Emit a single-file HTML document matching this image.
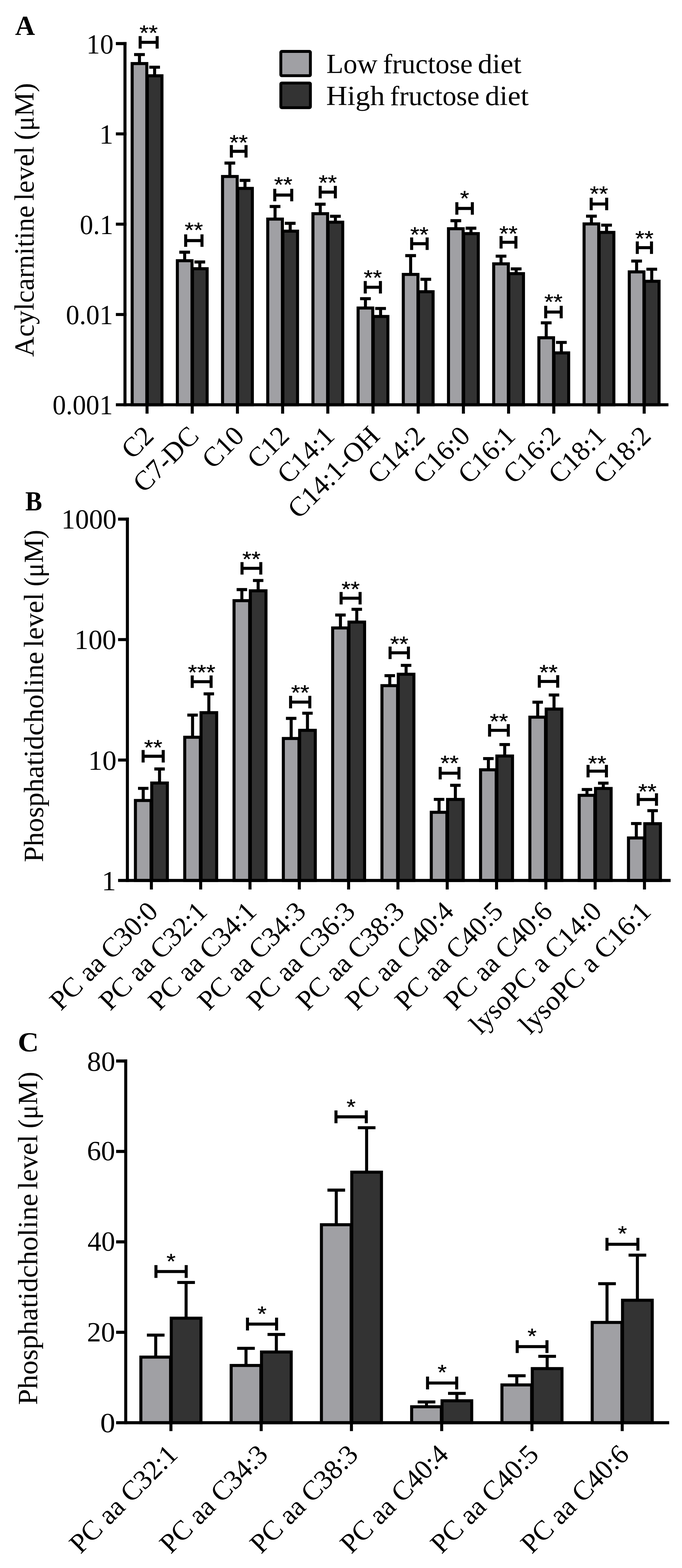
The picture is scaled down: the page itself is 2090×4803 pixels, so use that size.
<!DOCTYPE html>
<html><head><meta charset="utf-8"><title>Figure</title>
<style>html,body{margin:0;padding:0;background:#fff;} svg{display:block;}</style>
</head><body>
<svg xmlns="http://www.w3.org/2000/svg" width="2090" height="4803" viewBox="0 0 2090 4803">
<rect width="2090" height="4803" fill="#fff"/>
<g stroke="#000" fill="#000" font-family="'Liberation Serif', 'DejaVu Serif', serif">
<line x1="427.4" y1="194.7" x2="427.4" y2="167.1" stroke-width="9.3" stroke-linecap="butt"/>
<line x1="415.6" y1="167.1" x2="439.2" y2="167.1" stroke-width="9.3" stroke-linecap="square"/>
<rect x="405.0" y="194.7" width="44.9" height="1045.2" fill="#a0a0a4" stroke-width="9.3" stroke-linejoin="miter"/>
<line x1="473.8" y1="232.1" x2="473.8" y2="205.8" stroke-width="9.3" stroke-linecap="butt"/>
<line x1="462.0" y1="205.8" x2="485.6" y2="205.8" stroke-width="9.3" stroke-linecap="square"/>
<rect x="451.4" y="232.1" width="44.9" height="1007.9" fill="#333333" stroke-width="9.3" stroke-linejoin="miter"/>
<line x1="429.5" y1="115.2" x2="429.5" y2="144.2" stroke-width="9.3" stroke-linecap="square"/>
<line x1="481.6" y1="115.2" x2="481.6" y2="144.2" stroke-width="9.3" stroke-linecap="square"/>
<line x1="429.5" y1="129.7" x2="481.6" y2="129.7" stroke-width="9.3" stroke-linecap="butt"/>
<text stroke="#000" stroke-width="0.6" font-family="'Liberation Sans', 'DejaVu Sans', sans-serif" text-anchor="middle" transform="translate(455.6,123.4) scale(1,0.9)" font-size="72">**</text>
<line x1="450.6" y1="1239.9" x2="450.6" y2="1262.4" stroke-width="9.3" stroke-linecap="square"/>
<line x1="565.9" y1="798.6" x2="565.9" y2="772.5" stroke-width="9.3" stroke-linecap="butt"/>
<line x1="554.1" y1="772.5" x2="577.7" y2="772.5" stroke-width="9.3" stroke-linecap="square"/>
<rect x="543.5" y="798.6" width="44.9" height="441.3" fill="#a0a0a4" stroke-width="9.3" stroke-linejoin="miter"/>
<line x1="612.3" y1="823.1" x2="612.3" y2="802.5" stroke-width="9.3" stroke-linecap="butt"/>
<line x1="600.5" y1="802.5" x2="624.1" y2="802.5" stroke-width="9.3" stroke-linecap="square"/>
<rect x="589.9" y="823.1" width="44.9" height="416.8" fill="#333333" stroke-width="9.3" stroke-linejoin="miter"/>
<line x1="569.0" y1="722.5" x2="569.0" y2="751.5" stroke-width="9.3" stroke-linecap="square"/>
<line x1="619.0" y1="722.5" x2="619.0" y2="751.5" stroke-width="9.3" stroke-linecap="square"/>
<line x1="569.0" y1="737.0" x2="619.0" y2="737.0" stroke-width="9.3" stroke-linecap="butt"/>
<text stroke="#000" stroke-width="0.6" font-family="'Liberation Sans', 'DejaVu Sans', sans-serif" text-anchor="middle" transform="translate(594.0,727.2) scale(1,0.9)" font-size="72">**</text>
<line x1="589.1" y1="1239.9" x2="589.1" y2="1262.4" stroke-width="9.3" stroke-linecap="square"/>
<line x1="704.4" y1="540.6" x2="704.4" y2="499.5" stroke-width="9.3" stroke-linecap="butt"/>
<line x1="692.6" y1="499.5" x2="716.2" y2="499.5" stroke-width="9.3" stroke-linecap="square"/>
<rect x="682.0" y="540.6" width="44.9" height="699.3" fill="#a0a0a4" stroke-width="9.3" stroke-linejoin="miter"/>
<line x1="750.8" y1="577.1" x2="750.8" y2="552.5" stroke-width="9.3" stroke-linecap="butt"/>
<line x1="739.0" y1="552.5" x2="762.6" y2="552.5" stroke-width="9.3" stroke-linecap="square"/>
<rect x="728.4" y="577.1" width="44.9" height="662.8" fill="#333333" stroke-width="9.3" stroke-linejoin="miter"/>
<line x1="709.0" y1="449.0" x2="709.0" y2="478.0" stroke-width="9.3" stroke-linecap="square"/>
<line x1="754.0" y1="449.0" x2="754.0" y2="478.0" stroke-width="9.3" stroke-linecap="square"/>
<line x1="709.0" y1="463.5" x2="754.0" y2="463.5" stroke-width="9.3" stroke-linecap="butt"/>
<text stroke="#000" stroke-width="0.6" font-family="'Liberation Sans', 'DejaVu Sans', sans-serif" text-anchor="middle" transform="translate(731.5,458.7) scale(1,0.9)" font-size="72">**</text>
<line x1="727.6" y1="1239.9" x2="727.6" y2="1262.4" stroke-width="9.3" stroke-linecap="square"/>
<line x1="842.9" y1="671.1" x2="842.9" y2="632.5" stroke-width="9.3" stroke-linecap="butt"/>
<line x1="831.1" y1="632.5" x2="854.7" y2="632.5" stroke-width="9.3" stroke-linecap="square"/>
<rect x="820.5" y="671.1" width="44.9" height="568.8" fill="#a0a0a4" stroke-width="9.3" stroke-linejoin="miter"/>
<line x1="889.3" y1="708.1" x2="889.3" y2="684.0" stroke-width="9.3" stroke-linecap="butt"/>
<line x1="877.5" y1="684.0" x2="901.1" y2="684.0" stroke-width="9.3" stroke-linecap="square"/>
<rect x="866.9" y="708.1" width="44.9" height="531.8" fill="#333333" stroke-width="9.3" stroke-linejoin="miter"/>
<line x1="842.0" y1="583.0" x2="842.0" y2="612.0" stroke-width="9.3" stroke-linecap="square"/>
<line x1="894.0" y1="583.0" x2="894.0" y2="612.0" stroke-width="9.3" stroke-linecap="square"/>
<line x1="842.0" y1="597.5" x2="894.0" y2="597.5" stroke-width="9.3" stroke-linecap="butt"/>
<text stroke="#000" stroke-width="0.6" font-family="'Liberation Sans', 'DejaVu Sans', sans-serif" text-anchor="middle" transform="translate(868.0,587.5) scale(1,0.9)" font-size="72">**</text>
<line x1="866.1" y1="1239.9" x2="866.1" y2="1262.4" stroke-width="9.3" stroke-linecap="square"/>
<line x1="981.4" y1="654.6" x2="981.4" y2="625.5" stroke-width="9.3" stroke-linecap="butt"/>
<line x1="969.6" y1="625.5" x2="993.2" y2="625.5" stroke-width="9.3" stroke-linecap="square"/>
<rect x="959.0" y="654.6" width="44.9" height="585.3" fill="#a0a0a4" stroke-width="9.3" stroke-linejoin="miter"/>
<line x1="1027.8" y1="680.6" x2="1027.8" y2="662.5" stroke-width="9.3" stroke-linecap="butt"/>
<line x1="1016.0" y1="662.5" x2="1039.6" y2="662.5" stroke-width="9.3" stroke-linecap="square"/>
<rect x="1005.4" y="680.6" width="44.9" height="559.3" fill="#333333" stroke-width="9.3" stroke-linejoin="miter"/>
<line x1="981.2" y1="574.0" x2="981.2" y2="603.0" stroke-width="9.3" stroke-linecap="square"/>
<line x1="1027.7" y1="574.0" x2="1027.7" y2="603.0" stroke-width="9.3" stroke-linecap="square"/>
<line x1="981.2" y1="588.5" x2="1027.7" y2="588.5" stroke-width="9.3" stroke-linecap="butt"/>
<text stroke="#000" stroke-width="0.6" font-family="'Liberation Sans', 'DejaVu Sans', sans-serif" text-anchor="middle" transform="translate(1004.5,581.8) scale(1,0.9)" font-size="72">**</text>
<line x1="1004.6" y1="1239.9" x2="1004.6" y2="1262.4" stroke-width="9.3" stroke-linecap="square"/>
<line x1="1119.9" y1="943.5" x2="1119.9" y2="914.9" stroke-width="9.3" stroke-linecap="butt"/>
<line x1="1108.1" y1="914.9" x2="1131.7" y2="914.9" stroke-width="9.3" stroke-linecap="square"/>
<rect x="1097.4" y="943.5" width="44.9" height="296.4" fill="#a0a0a4" stroke-width="9.3" stroke-linejoin="miter"/>
<line x1="1166.3" y1="969.4" x2="1166.3" y2="944.9" stroke-width="9.3" stroke-linecap="butt"/>
<line x1="1154.5" y1="944.9" x2="1178.1" y2="944.9" stroke-width="9.3" stroke-linecap="square"/>
<rect x="1143.8" y="969.4" width="44.9" height="270.5" fill="#333333" stroke-width="9.3" stroke-linejoin="miter"/>
<line x1="1119.3" y1="865.4" x2="1119.3" y2="894.4" stroke-width="9.3" stroke-linecap="square"/>
<line x1="1165.8" y1="865.4" x2="1165.8" y2="894.4" stroke-width="9.3" stroke-linecap="square"/>
<line x1="1119.3" y1="879.9" x2="1165.8" y2="879.9" stroke-width="9.3" stroke-linecap="butt"/>
<text stroke="#000" stroke-width="0.6" font-family="'Liberation Sans', 'DejaVu Sans', sans-serif" text-anchor="middle" transform="translate(1142.5,873.2) scale(1,0.9)" font-size="72">**</text>
<line x1="1143.1" y1="1239.9" x2="1143.1" y2="1262.4" stroke-width="9.3" stroke-linecap="square"/>
<line x1="1258.4" y1="840.6" x2="1258.4" y2="783.0" stroke-width="9.3" stroke-linecap="butt"/>
<line x1="1246.6" y1="783.0" x2="1270.2" y2="783.0" stroke-width="9.3" stroke-linecap="square"/>
<rect x="1235.9" y="840.6" width="44.9" height="399.3" fill="#a0a0a4" stroke-width="9.3" stroke-linejoin="miter"/>
<line x1="1304.8" y1="893.6" x2="1304.8" y2="855.5" stroke-width="9.3" stroke-linecap="butt"/>
<line x1="1293.0" y1="855.5" x2="1316.6" y2="855.5" stroke-width="9.3" stroke-linecap="square"/>
<rect x="1282.3" y="893.6" width="44.9" height="346.3" fill="#333333" stroke-width="9.3" stroke-linejoin="miter"/>
<line x1="1261.5" y1="732.0" x2="1261.5" y2="761.0" stroke-width="9.3" stroke-linecap="square"/>
<line x1="1309.0" y1="732.0" x2="1309.0" y2="761.0" stroke-width="9.3" stroke-linecap="square"/>
<line x1="1261.5" y1="746.5" x2="1309.0" y2="746.5" stroke-width="9.3" stroke-linecap="butt"/>
<text stroke="#000" stroke-width="0.6" font-family="'Liberation Sans', 'DejaVu Sans', sans-serif" text-anchor="middle" transform="translate(1285.2,740.7) scale(1,0.9)" font-size="72">**</text>
<line x1="1281.6" y1="1239.9" x2="1281.6" y2="1262.4" stroke-width="9.3" stroke-linecap="square"/>
<line x1="1396.9" y1="700.6" x2="1396.9" y2="676.0" stroke-width="9.3" stroke-linecap="butt"/>
<line x1="1385.1" y1="676.0" x2="1408.7" y2="676.0" stroke-width="9.3" stroke-linecap="square"/>
<rect x="1374.4" y="700.6" width="44.9" height="539.3" fill="#a0a0a4" stroke-width="9.3" stroke-linejoin="miter"/>
<line x1="1443.3" y1="715.6" x2="1443.3" y2="699.0" stroke-width="9.3" stroke-linecap="butt"/>
<line x1="1431.5" y1="699.0" x2="1455.1" y2="699.0" stroke-width="9.3" stroke-linecap="square"/>
<rect x="1420.8" y="715.6" width="44.9" height="524.3" fill="#333333" stroke-width="9.3" stroke-linejoin="miter"/>
<line x1="1400.0" y1="624.0" x2="1400.0" y2="653.0" stroke-width="9.3" stroke-linecap="square"/>
<line x1="1447.5" y1="624.0" x2="1447.5" y2="653.0" stroke-width="9.3" stroke-linecap="square"/>
<line x1="1400.0" y1="638.5" x2="1447.5" y2="638.5" stroke-width="9.3" stroke-linecap="butt"/>
<text stroke="#000" stroke-width="0.6" font-family="'Liberation Sans', 'DejaVu Sans', sans-serif" text-anchor="middle" transform="translate(1423.8,629.7) scale(1,0.9)" font-size="72">*</text>
<line x1="1420.1" y1="1239.9" x2="1420.1" y2="1262.4" stroke-width="9.3" stroke-linecap="square"/>
<line x1="1535.4" y1="808.2" x2="1535.4" y2="784.6" stroke-width="9.3" stroke-linecap="butt"/>
<line x1="1523.6" y1="784.6" x2="1547.2" y2="784.6" stroke-width="9.3" stroke-linecap="square"/>
<rect x="1512.9" y="808.2" width="44.9" height="431.7" fill="#a0a0a4" stroke-width="9.3" stroke-linejoin="miter"/>
<line x1="1581.8" y1="838.2" x2="1581.8" y2="823.6" stroke-width="9.3" stroke-linecap="butt"/>
<line x1="1570.0" y1="823.6" x2="1593.6" y2="823.6" stroke-width="9.3" stroke-linecap="square"/>
<rect x="1559.3" y="838.2" width="44.9" height="401.7" fill="#333333" stroke-width="9.3" stroke-linejoin="miter"/>
<line x1="1535.5" y1="727.7" x2="1535.5" y2="756.7" stroke-width="9.3" stroke-linecap="square"/>
<line x1="1581.0" y1="727.7" x2="1581.0" y2="756.7" stroke-width="9.3" stroke-linecap="square"/>
<line x1="1535.5" y1="742.2" x2="1581.0" y2="742.2" stroke-width="9.3" stroke-linecap="butt"/>
<text stroke="#000" stroke-width="0.6" font-family="'Liberation Sans', 'DejaVu Sans', sans-serif" text-anchor="middle" transform="translate(1558.2,738.4) scale(1,0.9)" font-size="72">**</text>
<line x1="1558.6" y1="1239.9" x2="1558.6" y2="1262.4" stroke-width="9.3" stroke-linecap="square"/>
<line x1="1673.9" y1="1034.6" x2="1673.9" y2="988.9" stroke-width="9.3" stroke-linecap="butt"/>
<line x1="1662.1" y1="988.9" x2="1685.7" y2="988.9" stroke-width="9.3" stroke-linecap="square"/>
<rect x="1651.4" y="1034.6" width="44.9" height="205.3" fill="#a0a0a4" stroke-width="9.3" stroke-linejoin="miter"/>
<line x1="1720.3" y1="1081.0" x2="1720.3" y2="1048.8" stroke-width="9.3" stroke-linecap="butt"/>
<line x1="1708.5" y1="1048.8" x2="1732.1" y2="1048.8" stroke-width="9.3" stroke-linecap="square"/>
<rect x="1697.8" y="1081.0" width="44.9" height="159.0" fill="#333333" stroke-width="9.3" stroke-linejoin="miter"/>
<line x1="1672.3" y1="941.4" x2="1672.3" y2="970.4" stroke-width="9.3" stroke-linecap="square"/>
<line x1="1719.8" y1="941.4" x2="1719.8" y2="970.4" stroke-width="9.3" stroke-linecap="square"/>
<line x1="1672.3" y1="955.9" x2="1719.8" y2="955.9" stroke-width="9.3" stroke-linecap="butt"/>
<text stroke="#000" stroke-width="0.6" font-family="'Liberation Sans', 'DejaVu Sans', sans-serif" text-anchor="middle" transform="translate(1696.0,947.2) scale(1,0.9)" font-size="72">**</text>
<line x1="1697.1" y1="1239.9" x2="1697.1" y2="1262.4" stroke-width="9.3" stroke-linecap="square"/>
<line x1="1812.4" y1="685.9" x2="1812.4" y2="662.2" stroke-width="9.3" stroke-linecap="butt"/>
<line x1="1800.6" y1="662.2" x2="1824.2" y2="662.2" stroke-width="9.3" stroke-linecap="square"/>
<rect x="1789.9" y="685.9" width="44.9" height="554.1" fill="#a0a0a4" stroke-width="9.3" stroke-linejoin="miter"/>
<line x1="1858.8" y1="711.9" x2="1858.8" y2="689.7" stroke-width="9.3" stroke-linecap="butt"/>
<line x1="1847.0" y1="689.7" x2="1870.6" y2="689.7" stroke-width="9.3" stroke-linecap="square"/>
<rect x="1836.3" y="711.9" width="44.9" height="528.1" fill="#333333" stroke-width="9.3" stroke-linejoin="miter"/>
<line x1="1811.7" y1="610.3" x2="1811.7" y2="639.3" stroke-width="9.3" stroke-linecap="square"/>
<line x1="1859.2" y1="610.3" x2="1859.2" y2="639.3" stroke-width="9.3" stroke-linecap="square"/>
<line x1="1811.7" y1="624.8" x2="1859.2" y2="624.8" stroke-width="9.3" stroke-linecap="butt"/>
<text stroke="#000" stroke-width="0.6" font-family="'Liberation Sans', 'DejaVu Sans', sans-serif" text-anchor="middle" transform="translate(1835.5,615.5) scale(1,0.9)" font-size="72">**</text>
<line x1="1835.6" y1="1239.9" x2="1835.6" y2="1262.4" stroke-width="9.3" stroke-linecap="square"/>
<line x1="1950.9" y1="832.8" x2="1950.9" y2="799.6" stroke-width="9.3" stroke-linecap="butt"/>
<line x1="1939.1" y1="799.6" x2="1962.7" y2="799.6" stroke-width="9.3" stroke-linecap="square"/>
<rect x="1928.4" y="832.8" width="44.9" height="407.2" fill="#a0a0a4" stroke-width="9.3" stroke-linejoin="miter"/>
<line x1="1997.3" y1="861.6" x2="1997.3" y2="824.6" stroke-width="9.3" stroke-linecap="butt"/>
<line x1="1985.5" y1="824.6" x2="2009.1" y2="824.6" stroke-width="9.3" stroke-linecap="square"/>
<rect x="1974.8" y="861.6" width="44.9" height="378.3" fill="#333333" stroke-width="9.3" stroke-linejoin="miter"/>
<line x1="1953.0" y1="744.2" x2="1953.0" y2="773.2" stroke-width="9.3" stroke-linecap="square"/>
<line x1="1996.5" y1="744.2" x2="1996.5" y2="773.2" stroke-width="9.3" stroke-linecap="square"/>
<line x1="1953.0" y1="758.7" x2="1996.5" y2="758.7" stroke-width="9.3" stroke-linecap="butt"/>
<text stroke="#000" stroke-width="0.6" font-family="'Liberation Sans', 'DejaVu Sans', sans-serif" text-anchor="middle" transform="translate(1974.8,752.9) scale(1,0.9)" font-size="72">**</text>
<line x1="1974.1" y1="1239.9" x2="1974.1" y2="1262.4" stroke-width="9.3" stroke-linecap="square"/>
<path d="M383.0,133.5 L383.0,1239.9 L2043.8,1239.9" fill="none" stroke-width="9.3" stroke-linejoin="miter" stroke-linecap="square"/>
<line x1="359.7" y1="133.5" x2="383.0" y2="133.5" stroke-width="9.3" stroke-linecap="square"/>
<line x1="359.7" y1="410.1" x2="383.0" y2="410.1" stroke-width="9.3" stroke-linecap="square"/>
<line x1="359.7" y1="686.7" x2="383.0" y2="686.7" stroke-width="9.3" stroke-linecap="square"/>
<line x1="359.7" y1="963.3" x2="383.0" y2="963.3" stroke-width="9.3" stroke-linecap="square"/>
<line x1="359.7" y1="1239.9" x2="383.0" y2="1239.9" stroke-width="9.3" stroke-linecap="square"/>
<line x1="438.9" y1="2452.0" x2="438.9" y2="2414.9" stroke-width="9.3" stroke-linecap="butt"/>
<line x1="427.6" y1="2414.9" x2="450.3" y2="2414.9" stroke-width="9.3" stroke-linecap="square"/>
<rect x="415.0" y="2452.0" width="47.9" height="245.0" fill="#a0a0a4" stroke-width="9.3" stroke-linejoin="miter"/>
<line x1="488.9" y1="2398.5" x2="488.9" y2="2355.5" stroke-width="9.3" stroke-linecap="butt"/>
<line x1="477.6" y1="2355.5" x2="500.3" y2="2355.5" stroke-width="9.3" stroke-linecap="square"/>
<rect x="465.0" y="2398.5" width="47.9" height="298.5" fill="#333333" stroke-width="9.3" stroke-linejoin="miter"/>
<line x1="438.6" y1="2302.0" x2="438.6" y2="2331.0" stroke-width="9.3" stroke-linecap="square"/>
<line x1="500.2" y1="2302.0" x2="500.2" y2="2331.0" stroke-width="9.3" stroke-linecap="square"/>
<line x1="438.6" y1="2316.5" x2="500.2" y2="2316.5" stroke-width="9.3" stroke-linecap="butt"/>
<text stroke="#000" stroke-width="0.6" font-family="'Liberation Sans', 'DejaVu Sans', sans-serif" text-anchor="middle" transform="translate(469.4,2312.0) scale(1,0.9)" font-size="72">**</text>
<line x1="463.9" y1="2697.0" x2="463.9" y2="2720.0" stroke-width="9.3" stroke-linecap="square"/>
<line x1="590.1" y1="2258.3" x2="590.1" y2="2190.3" stroke-width="9.3" stroke-linecap="butt"/>
<line x1="578.7" y1="2190.3" x2="601.5" y2="2190.3" stroke-width="9.3" stroke-linecap="square"/>
<rect x="566.1" y="2258.3" width="47.9" height="438.7" fill="#a0a0a4" stroke-width="9.3" stroke-linejoin="miter"/>
<line x1="640.0" y1="2183.0" x2="640.0" y2="2125.4" stroke-width="9.3" stroke-linecap="butt"/>
<line x1="628.6" y1="2125.4" x2="651.4" y2="2125.4" stroke-width="9.3" stroke-linecap="square"/>
<rect x="616.1" y="2183.0" width="47.9" height="514.0" fill="#333333" stroke-width="9.3" stroke-linejoin="miter"/>
<line x1="589.1" y1="2073.6" x2="589.1" y2="2102.6" stroke-width="9.3" stroke-linecap="square"/>
<line x1="646.9" y1="2073.6" x2="646.9" y2="2102.6" stroke-width="9.3" stroke-linecap="square"/>
<line x1="589.1" y1="2088.1" x2="646.9" y2="2088.1" stroke-width="9.3" stroke-linecap="butt"/>
<text stroke="#000" stroke-width="0.6" font-family="'Liberation Sans', 'DejaVu Sans', sans-serif" text-anchor="middle" transform="translate(618.0,2082.0) scale(1,0.9)" font-size="72">***</text>
<line x1="615.0" y1="2697.0" x2="615.0" y2="2720.0" stroke-width="9.3" stroke-linecap="square"/>
<line x1="741.2" y1="1839.9" x2="741.2" y2="1806.0" stroke-width="9.3" stroke-linecap="butt"/>
<line x1="729.8" y1="1806.0" x2="752.6" y2="1806.0" stroke-width="9.3" stroke-linecap="square"/>
<rect x="717.2" y="1839.9" width="47.9" height="857.1" fill="#a0a0a4" stroke-width="9.3" stroke-linejoin="miter"/>
<line x1="791.1" y1="1809.7" x2="791.1" y2="1778.2" stroke-width="9.3" stroke-linecap="butt"/>
<line x1="779.8" y1="1778.2" x2="802.5" y2="1778.2" stroke-width="9.3" stroke-linecap="square"/>
<rect x="767.2" y="1809.7" width="47.9" height="887.3" fill="#333333" stroke-width="9.3" stroke-linejoin="miter"/>
<line x1="741.7" y1="1726.4" x2="741.7" y2="1755.4" stroke-width="9.3" stroke-linecap="square"/>
<line x1="799.2" y1="1726.4" x2="799.2" y2="1755.4" stroke-width="9.3" stroke-linecap="square"/>
<line x1="741.7" y1="1740.9" x2="799.2" y2="1740.9" stroke-width="9.3" stroke-linecap="butt"/>
<text stroke="#000" stroke-width="0.6" font-family="'Liberation Sans', 'DejaVu Sans', sans-serif" text-anchor="middle" transform="translate(770.5,1734.9) scale(1,0.9)" font-size="72">**</text>
<line x1="766.1" y1="2697.0" x2="766.1" y2="2720.0" stroke-width="9.3" stroke-linecap="square"/>
<line x1="892.3" y1="2262.1" x2="892.3" y2="2200.5" stroke-width="9.3" stroke-linecap="butt"/>
<line x1="880.9" y1="2200.5" x2="903.7" y2="2200.5" stroke-width="9.3" stroke-linecap="square"/>
<rect x="868.3" y="2262.1" width="47.9" height="434.9" fill="#a0a0a4" stroke-width="9.3" stroke-linejoin="miter"/>
<line x1="942.2" y1="2237.1" x2="942.2" y2="2184.6" stroke-width="9.3" stroke-linecap="butt"/>
<line x1="930.9" y1="2184.6" x2="953.6" y2="2184.6" stroke-width="9.3" stroke-linecap="square"/>
<rect x="918.3" y="2237.1" width="47.9" height="459.9" fill="#333333" stroke-width="9.3" stroke-linejoin="miter"/>
<line x1="890.5" y1="2136.1" x2="890.5" y2="2165.1" stroke-width="9.3" stroke-linecap="square"/>
<line x1="949.4" y1="2136.1" x2="949.4" y2="2165.1" stroke-width="9.3" stroke-linecap="square"/>
<line x1="890.5" y1="2150.6" x2="949.4" y2="2150.6" stroke-width="9.3" stroke-linecap="butt"/>
<text stroke="#000" stroke-width="0.6" font-family="'Liberation Sans', 'DejaVu Sans', sans-serif" text-anchor="middle" transform="translate(920.0,2144.3) scale(1,0.9)" font-size="72">**</text>
<line x1="917.2" y1="2697.0" x2="917.2" y2="2720.0" stroke-width="9.3" stroke-linecap="square"/>
<line x1="1043.3" y1="1923.5" x2="1043.3" y2="1883.8" stroke-width="9.3" stroke-linecap="butt"/>
<line x1="1031.9" y1="1883.8" x2="1054.8" y2="1883.8" stroke-width="9.3" stroke-linecap="square"/>
<rect x="1019.4" y="1923.5" width="47.9" height="773.5" fill="#a0a0a4" stroke-width="9.3" stroke-linejoin="miter"/>
<line x1="1093.3" y1="1905.5" x2="1093.3" y2="1866.3" stroke-width="9.3" stroke-linecap="butt"/>
<line x1="1081.9" y1="1866.3" x2="1104.8" y2="1866.3" stroke-width="9.3" stroke-linecap="square"/>
<rect x="1069.4" y="1905.5" width="47.9" height="791.5" fill="#333333" stroke-width="9.3" stroke-linejoin="miter"/>
<line x1="1045.3" y1="1817.9" x2="1045.3" y2="1846.9" stroke-width="9.3" stroke-linecap="square"/>
<line x1="1103.5" y1="1817.9" x2="1103.5" y2="1846.9" stroke-width="9.3" stroke-linecap="square"/>
<line x1="1045.3" y1="1832.4" x2="1103.5" y2="1832.4" stroke-width="9.3" stroke-linecap="butt"/>
<text stroke="#000" stroke-width="0.6" font-family="'Liberation Sans', 'DejaVu Sans', sans-serif" text-anchor="middle" transform="translate(1074.4,1827.1) scale(1,0.9)" font-size="72">**</text>
<line x1="1068.3" y1="2697.0" x2="1068.3" y2="2720.0" stroke-width="9.3" stroke-linecap="square"/>
<line x1="1194.5" y1="2100.2" x2="1194.5" y2="2069.7" stroke-width="9.3" stroke-linecap="butt"/>
<line x1="1183.0" y1="2069.7" x2="1205.9" y2="2069.7" stroke-width="9.3" stroke-linecap="square"/>
<rect x="1170.5" y="2100.2" width="47.9" height="596.8" fill="#a0a0a4" stroke-width="9.3" stroke-linejoin="miter"/>
<line x1="1244.5" y1="2065.3" x2="1244.5" y2="2038.2" stroke-width="9.3" stroke-linecap="butt"/>
<line x1="1233.0" y1="2038.2" x2="1255.9" y2="2038.2" stroke-width="9.3" stroke-linecap="square"/>
<rect x="1220.5" y="2065.3" width="47.9" height="631.7" fill="#333333" stroke-width="9.3" stroke-linejoin="miter"/>
<line x1="1195.4" y1="1985.2" x2="1195.4" y2="2014.2" stroke-width="9.3" stroke-linecap="square"/>
<line x1="1251.6" y1="1985.2" x2="1251.6" y2="2014.2" stroke-width="9.3" stroke-linecap="square"/>
<line x1="1195.4" y1="1999.7" x2="1251.6" y2="1999.7" stroke-width="9.3" stroke-linecap="butt"/>
<text stroke="#000" stroke-width="0.6" font-family="'Liberation Sans', 'DejaVu Sans', sans-serif" text-anchor="middle" transform="translate(1223.5,1994.5) scale(1,0.9)" font-size="72">**</text>
<line x1="1219.5" y1="2697.0" x2="1219.5" y2="2720.0" stroke-width="9.3" stroke-linecap="square"/>
<line x1="1345.5" y1="2488.2" x2="1345.5" y2="2448.7" stroke-width="9.3" stroke-linecap="butt"/>
<line x1="1334.1" y1="2448.7" x2="1357.0" y2="2448.7" stroke-width="9.3" stroke-linecap="square"/>
<rect x="1321.6" y="2488.2" width="47.9" height="208.8" fill="#a0a0a4" stroke-width="9.3" stroke-linejoin="miter"/>
<line x1="1395.5" y1="2448.8" x2="1395.5" y2="2405.5" stroke-width="9.3" stroke-linecap="butt"/>
<line x1="1384.1" y1="2405.5" x2="1407.0" y2="2405.5" stroke-width="9.3" stroke-linecap="square"/>
<rect x="1371.6" y="2448.8" width="47.9" height="248.2" fill="#333333" stroke-width="9.3" stroke-linejoin="miter"/>
<line x1="1349.0" y1="2353.8" x2="1349.0" y2="2382.8" stroke-width="9.3" stroke-linecap="square"/>
<line x1="1406.5" y1="2353.8" x2="1406.5" y2="2382.8" stroke-width="9.3" stroke-linecap="square"/>
<line x1="1349.0" y1="2368.3" x2="1406.5" y2="2368.3" stroke-width="9.3" stroke-linecap="butt"/>
<text stroke="#000" stroke-width="0.6" font-family="'Liberation Sans', 'DejaVu Sans', sans-serif" text-anchor="middle" transform="translate(1377.8,2360.2) scale(1,0.9)" font-size="72">**</text>
<line x1="1370.5" y1="2697.0" x2="1370.5" y2="2720.0" stroke-width="9.3" stroke-linecap="square"/>
<line x1="1496.7" y1="2358.0" x2="1496.7" y2="2323.7" stroke-width="9.3" stroke-linecap="butt"/>
<line x1="1485.2" y1="2323.7" x2="1508.1" y2="2323.7" stroke-width="9.3" stroke-linecap="square"/>
<rect x="1472.7" y="2358.0" width="47.9" height="339.0" fill="#a0a0a4" stroke-width="9.3" stroke-linejoin="miter"/>
<line x1="1546.7" y1="2315.8" x2="1546.7" y2="2280.7" stroke-width="9.3" stroke-linecap="butt"/>
<line x1="1535.2" y1="2280.7" x2="1558.1" y2="2280.7" stroke-width="9.3" stroke-linecap="square"/>
<rect x="1522.7" y="2315.8" width="47.9" height="381.2" fill="#333333" stroke-width="9.3" stroke-linejoin="miter"/>
<line x1="1500.3" y1="2222.7" x2="1500.3" y2="2251.7" stroke-width="9.3" stroke-linecap="square"/>
<line x1="1557.7" y1="2222.7" x2="1557.7" y2="2251.7" stroke-width="9.3" stroke-linecap="square"/>
<line x1="1500.3" y1="2237.2" x2="1557.7" y2="2237.2" stroke-width="9.3" stroke-linecap="butt"/>
<text stroke="#000" stroke-width="0.6" font-family="'Liberation Sans', 'DejaVu Sans', sans-serif" text-anchor="middle" transform="translate(1529.0,2231.9) scale(1,0.9)" font-size="72">**</text>
<line x1="1521.7" y1="2697.0" x2="1521.7" y2="2720.0" stroke-width="9.3" stroke-linecap="square"/>
<line x1="1647.8" y1="2196.8" x2="1647.8" y2="2150.8" stroke-width="9.3" stroke-linecap="butt"/>
<line x1="1636.3" y1="2150.8" x2="1659.2" y2="2150.8" stroke-width="9.3" stroke-linecap="square"/>
<rect x="1623.8" y="2196.8" width="47.9" height="500.2" fill="#a0a0a4" stroke-width="9.3" stroke-linejoin="miter"/>
<line x1="1697.8" y1="2172.0" x2="1697.8" y2="2128.8" stroke-width="9.3" stroke-linecap="butt"/>
<line x1="1686.3" y1="2128.8" x2="1709.2" y2="2128.8" stroke-width="9.3" stroke-linecap="square"/>
<rect x="1673.8" y="2172.0" width="47.9" height="525.0" fill="#333333" stroke-width="9.3" stroke-linejoin="miter"/>
<line x1="1652.7" y1="2072.8" x2="1652.7" y2="2101.8" stroke-width="9.3" stroke-linecap="square"/>
<line x1="1709.1" y1="2072.8" x2="1709.1" y2="2101.8" stroke-width="9.3" stroke-linecap="square"/>
<line x1="1652.7" y1="2087.3" x2="1709.1" y2="2087.3" stroke-width="9.3" stroke-linecap="butt"/>
<text stroke="#000" stroke-width="0.6" font-family="'Liberation Sans', 'DejaVu Sans', sans-serif" text-anchor="middle" transform="translate(1680.9,2082.1) scale(1,0.9)" font-size="72">**</text>
<line x1="1672.8" y1="2697.0" x2="1672.8" y2="2720.0" stroke-width="9.3" stroke-linecap="square"/>
<line x1="1798.8" y1="2436.2" x2="1798.8" y2="2418.4" stroke-width="9.3" stroke-linecap="butt"/>
<line x1="1787.4" y1="2418.4" x2="1810.2" y2="2418.4" stroke-width="9.3" stroke-linecap="square"/>
<rect x="1774.9" y="2436.2" width="47.9" height="260.8" fill="#a0a0a4" stroke-width="9.3" stroke-linejoin="miter"/>
<line x1="1848.8" y1="2415.2" x2="1848.8" y2="2398.9" stroke-width="9.3" stroke-linecap="butt"/>
<line x1="1837.4" y1="2398.9" x2="1860.2" y2="2398.9" stroke-width="9.3" stroke-linecap="square"/>
<rect x="1824.9" y="2415.2" width="47.9" height="281.8" fill="#333333" stroke-width="9.3" stroke-linejoin="miter"/>
<line x1="1802.1" y1="2347.6" x2="1802.1" y2="2376.6" stroke-width="9.3" stroke-linecap="square"/>
<line x1="1858.4" y1="2347.6" x2="1858.4" y2="2376.6" stroke-width="9.3" stroke-linecap="square"/>
<line x1="1802.1" y1="2362.1" x2="1858.4" y2="2362.1" stroke-width="9.3" stroke-linecap="butt"/>
<text stroke="#000" stroke-width="0.6" font-family="'Liberation Sans', 'DejaVu Sans', sans-serif" text-anchor="middle" transform="translate(1830.2,2360.5) scale(1,0.9)" font-size="72">**</text>
<line x1="1823.8" y1="2697.0" x2="1823.8" y2="2720.0" stroke-width="9.3" stroke-linecap="square"/>
<line x1="1950.0" y1="2566.8" x2="1950.0" y2="2522.6" stroke-width="9.3" stroke-linecap="butt"/>
<line x1="1938.5" y1="2522.6" x2="1961.4" y2="2522.6" stroke-width="9.3" stroke-linecap="square"/>
<rect x="1926.0" y="2566.8" width="47.9" height="130.2" fill="#a0a0a4" stroke-width="9.3" stroke-linejoin="miter"/>
<line x1="2000.0" y1="2523.1" x2="2000.0" y2="2483.2" stroke-width="9.3" stroke-linecap="butt"/>
<line x1="1988.5" y1="2483.2" x2="2011.4" y2="2483.2" stroke-width="9.3" stroke-linecap="square"/>
<rect x="1976.0" y="2523.1" width="47.9" height="173.9" fill="#333333" stroke-width="9.3" stroke-linejoin="miter"/>
<line x1="1956.0" y1="2434.5" x2="1956.0" y2="2463.5" stroke-width="9.3" stroke-linecap="square"/>
<line x1="2011.8" y1="2434.5" x2="2011.8" y2="2463.5" stroke-width="9.3" stroke-linecap="square"/>
<line x1="1956.0" y1="2449.0" x2="2011.8" y2="2449.0" stroke-width="9.3" stroke-linecap="butt"/>
<text stroke="#000" stroke-width="0.6" font-family="'Liberation Sans', 'DejaVu Sans', sans-serif" text-anchor="middle" transform="translate(1983.9,2447.3) scale(1,0.9)" font-size="72">**</text>
<line x1="1975.0" y1="2697.0" x2="1975.0" y2="2720.0" stroke-width="9.3" stroke-linecap="square"/>
<path d="M390.4,1590.2 L390.4,2697.0 L2050.5,2697.0" fill="none" stroke-width="9.3" stroke-linejoin="miter" stroke-linecap="square"/>
<line x1="366.5" y1="1590.2" x2="390.4" y2="1590.2" stroke-width="9.3" stroke-linecap="square"/>
<line x1="366.5" y1="1959.1" x2="390.4" y2="1959.1" stroke-width="9.3" stroke-linecap="square"/>
<line x1="366.5" y1="2328.1" x2="390.4" y2="2328.1" stroke-width="9.3" stroke-linecap="square"/>
<line x1="366.5" y1="2697.0" x2="390.4" y2="2697.0" stroke-width="9.3" stroke-linecap="square"/>
<line x1="477.2" y1="4157.0" x2="477.2" y2="4089.6" stroke-width="9.3" stroke-linecap="butt"/>
<line x1="454.8" y1="4089.6" x2="499.6" y2="4089.6" stroke-width="9.3" stroke-linecap="square"/>
<rect x="431.7" y="4157.0" width="91.0" height="201.0" fill="#a0a0a4" stroke-width="9.3" stroke-linejoin="miter"/>
<line x1="570.3" y1="4037.8" x2="570.3" y2="3928.4" stroke-width="9.3" stroke-linecap="butt"/>
<line x1="547.9" y1="3928.4" x2="592.7" y2="3928.4" stroke-width="9.3" stroke-linecap="square"/>
<rect x="524.8" y="4037.8" width="91.0" height="320.2" fill="#333333" stroke-width="9.3" stroke-linejoin="miter"/>
<line x1="477.9" y1="3879.8" x2="477.9" y2="3909.8" stroke-width="9.3" stroke-linecap="square"/>
<line x1="570.6" y1="3879.8" x2="570.6" y2="3909.8" stroke-width="9.3" stroke-linecap="square"/>
<line x1="477.9" y1="3894.8" x2="570.6" y2="3894.8" stroke-width="9.3" stroke-linecap="butt"/>
<text stroke="#000" stroke-width="0.6" font-family="'Liberation Sans', 'DejaVu Sans', sans-serif" text-anchor="middle" transform="translate(524.2,3886.2) scale(1,0.9)" font-size="72">*</text>
<line x1="523.8" y1="4358.0" x2="523.8" y2="4379.0" stroke-width="9.3" stroke-linecap="square"/>
<line x1="753.9" y1="4182.6" x2="753.9" y2="4130.1" stroke-width="9.3" stroke-linecap="butt"/>
<line x1="731.5" y1="4130.1" x2="776.2" y2="4130.1" stroke-width="9.3" stroke-linecap="square"/>
<rect x="708.4" y="4182.6" width="91.0" height="175.4" fill="#a0a0a4" stroke-width="9.3" stroke-linejoin="miter"/>
<line x1="846.9" y1="4141.4" x2="846.9" y2="4087.6" stroke-width="9.3" stroke-linecap="butt"/>
<line x1="824.5" y1="4087.6" x2="869.3" y2="4087.6" stroke-width="9.3" stroke-linecap="square"/>
<rect x="801.4" y="4141.4" width="91.0" height="216.6" fill="#333333" stroke-width="9.3" stroke-linejoin="miter"/>
<line x1="758.4" y1="4040.8" x2="758.4" y2="4070.8" stroke-width="9.3" stroke-linecap="square"/>
<line x1="847.6" y1="4040.8" x2="847.6" y2="4070.8" stroke-width="9.3" stroke-linecap="square"/>
<line x1="758.4" y1="4055.8" x2="847.6" y2="4055.8" stroke-width="9.3" stroke-linecap="butt"/>
<text stroke="#000" stroke-width="0.6" font-family="'Liberation Sans', 'DejaVu Sans', sans-serif" text-anchor="middle" transform="translate(803.0,4046.9) scale(1,0.9)" font-size="72">*</text>
<line x1="800.4" y1="4358.0" x2="800.4" y2="4379.0" stroke-width="9.3" stroke-linecap="square"/>
<line x1="1030.5" y1="3751.5" x2="1030.5" y2="3645.5" stroke-width="9.3" stroke-linecap="butt"/>
<line x1="1008.1" y1="3645.5" x2="1052.9" y2="3645.5" stroke-width="9.3" stroke-linecap="square"/>
<rect x="985.0" y="3751.5" width="91.0" height="606.5" fill="#a0a0a4" stroke-width="9.3" stroke-linejoin="miter"/>
<line x1="1123.5" y1="3590.5" x2="1123.5" y2="3454.4" stroke-width="9.3" stroke-linecap="butt"/>
<line x1="1101.1" y1="3454.4" x2="1146.0" y2="3454.4" stroke-width="9.3" stroke-linecap="square"/>
<rect x="1078.0" y="3590.5" width="91.0" height="767.5" fill="#333333" stroke-width="9.3" stroke-linejoin="miter"/>
<line x1="1029.6" y1="3406.0" x2="1029.6" y2="3436.0" stroke-width="9.3" stroke-linecap="square"/>
<line x1="1122.5" y1="3406.0" x2="1122.5" y2="3436.0" stroke-width="9.3" stroke-linecap="square"/>
<line x1="1029.6" y1="3421.0" x2="1122.5" y2="3421.0" stroke-width="9.3" stroke-linecap="butt"/>
<text stroke="#000" stroke-width="0.6" font-family="'Liberation Sans', 'DejaVu Sans', sans-serif" text-anchor="middle" transform="translate(1076.0,3412.8) scale(1,0.9)" font-size="72">*</text>
<line x1="1077.0" y1="4358.0" x2="1077.0" y2="4379.0" stroke-width="9.3" stroke-linecap="square"/>
<line x1="1307.0" y1="4309.1" x2="1307.0" y2="4294.4" stroke-width="9.3" stroke-linecap="butt"/>
<line x1="1284.6" y1="4294.4" x2="1329.5" y2="4294.4" stroke-width="9.3" stroke-linecap="square"/>
<rect x="1261.5" y="4309.1" width="91.0" height="48.9" fill="#a0a0a4" stroke-width="9.3" stroke-linejoin="miter"/>
<line x1="1400.1" y1="4290.8" x2="1400.1" y2="4268.2" stroke-width="9.3" stroke-linecap="butt"/>
<line x1="1377.7" y1="4268.2" x2="1422.5" y2="4268.2" stroke-width="9.3" stroke-linecap="square"/>
<rect x="1354.6" y="4290.8" width="91.0" height="67.2" fill="#333333" stroke-width="9.3" stroke-linejoin="miter"/>
<line x1="1310.2" y1="4221.3" x2="1310.2" y2="4251.3" stroke-width="9.3" stroke-linecap="square"/>
<line x1="1399.6" y1="4221.3" x2="1399.6" y2="4251.3" stroke-width="9.3" stroke-linecap="square"/>
<line x1="1310.2" y1="4236.3" x2="1399.6" y2="4236.3" stroke-width="9.3" stroke-linecap="butt"/>
<text stroke="#000" stroke-width="0.6" font-family="'Liberation Sans', 'DejaVu Sans', sans-serif" text-anchor="middle" transform="translate(1354.9,4226.3) scale(1,0.9)" font-size="72">*</text>
<line x1="1353.6" y1="4358.0" x2="1353.6" y2="4379.0" stroke-width="9.3" stroke-linecap="square"/>
<line x1="1583.7" y1="4242.2" x2="1583.7" y2="4214.1" stroke-width="9.3" stroke-linecap="butt"/>
<line x1="1561.2" y1="4214.1" x2="1606.1" y2="4214.1" stroke-width="9.3" stroke-linecap="square"/>
<rect x="1538.2" y="4242.2" width="91.0" height="115.8" fill="#a0a0a4" stroke-width="9.3" stroke-linejoin="miter"/>
<line x1="1676.8" y1="4192.2" x2="1676.8" y2="4154.7" stroke-width="9.3" stroke-linecap="butt"/>
<line x1="1654.3" y1="4154.7" x2="1699.2" y2="4154.7" stroke-width="9.3" stroke-linecap="square"/>
<rect x="1631.2" y="4192.2" width="91.0" height="165.8" fill="#333333" stroke-width="9.3" stroke-linejoin="miter"/>
<line x1="1585.0" y1="4109.9" x2="1585.0" y2="4139.9" stroke-width="9.3" stroke-linecap="square"/>
<line x1="1676.2" y1="4109.9" x2="1676.2" y2="4139.9" stroke-width="9.3" stroke-linecap="square"/>
<line x1="1585.0" y1="4124.9" x2="1676.2" y2="4124.9" stroke-width="9.3" stroke-linecap="butt"/>
<text stroke="#000" stroke-width="0.6" font-family="'Liberation Sans', 'DejaVu Sans', sans-serif" text-anchor="middle" transform="translate(1630.6,4114.5) scale(1,0.9)" font-size="72">*</text>
<line x1="1630.2" y1="4358.0" x2="1630.2" y2="4379.0" stroke-width="9.3" stroke-linecap="square"/>
<line x1="1860.2" y1="4050.8" x2="1860.2" y2="3932.1" stroke-width="9.3" stroke-linecap="butt"/>
<line x1="1837.8" y1="3932.1" x2="1882.7" y2="3932.1" stroke-width="9.3" stroke-linecap="square"/>
<rect x="1814.8" y="4050.8" width="91.0" height="307.2" fill="#a0a0a4" stroke-width="9.3" stroke-linejoin="miter"/>
<line x1="1953.3" y1="3982.8" x2="1953.3" y2="3844.7" stroke-width="9.3" stroke-linecap="butt"/>
<line x1="1930.9" y1="3844.7" x2="1975.8" y2="3844.7" stroke-width="9.3" stroke-linecap="square"/>
<rect x="1907.8" y="3982.8" width="91.0" height="375.2" fill="#333333" stroke-width="9.3" stroke-linejoin="miter"/>
<line x1="1860.1" y1="3796.3" x2="1860.1" y2="3826.3" stroke-width="9.3" stroke-linecap="square"/>
<line x1="1954.8" y1="3796.3" x2="1954.8" y2="3826.3" stroke-width="9.3" stroke-linecap="square"/>
<line x1="1860.1" y1="3811.3" x2="1954.8" y2="3811.3" stroke-width="9.3" stroke-linecap="butt"/>
<text stroke="#000" stroke-width="0.6" font-family="'Liberation Sans', 'DejaVu Sans', sans-serif" text-anchor="middle" transform="translate(1907.4,3800.8) scale(1,0.9)" font-size="72">*</text>
<line x1="1906.8" y1="4358.0" x2="1906.8" y2="4379.0" stroke-width="9.3" stroke-linecap="square"/>
<path d="M385.3,3250.0 L385.3,4358.0 L2046.0,4358.0" fill="none" stroke-width="9.3" stroke-linejoin="miter" stroke-linecap="square"/>
<line x1="360.5" y1="3250.0" x2="385.3" y2="3250.0" stroke-width="9.3" stroke-linecap="square"/>
<line x1="360.5" y1="3527.0" x2="385.3" y2="3527.0" stroke-width="9.3" stroke-linecap="square"/>
<line x1="360.5" y1="3804.0" x2="385.3" y2="3804.0" stroke-width="9.3" stroke-linecap="square"/>
<line x1="360.5" y1="4081.0" x2="385.3" y2="4081.0" stroke-width="9.3" stroke-linecap="square"/>
<line x1="360.5" y1="4358.0" x2="385.3" y2="4358.0" stroke-width="9.3" stroke-linecap="square"/>
</g>
<g fill="#000" font-family="'Liberation Serif', 'DejaVu Serif', serif">
<text x="264.8" y="164.1" font-size="84.5" font-weight="normal" textLength="83.2" lengthAdjust="spacingAndGlyphs">10</text>
<text x="304.3" y="440.2" font-size="84.5" font-weight="normal" textLength="42.9" lengthAdjust="spacingAndGlyphs">1</text>
<text x="244.4" y="717.2" font-size="84.5" font-weight="normal" textLength="102.5" lengthAdjust="spacingAndGlyphs">0.1</text>
<text x="201.9" y="993.0" font-size="84.5" font-weight="normal" textLength="144.5" lengthAdjust="spacingAndGlyphs">0.01</text>
<text x="160.9" y="1268.6" font-size="84.5" font-weight="normal" textLength="184.9" lengthAdjust="spacingAndGlyphs">0.001</text>
<text x="188.0" y="1618.5" font-size="84.5" font-weight="normal" textLength="169.5" lengthAdjust="spacingAndGlyphs">1000</text>
<text x="228.2" y="1988.2" font-size="84.5" font-weight="normal" textLength="128.1" lengthAdjust="spacingAndGlyphs">100</text>
<text x="270.3" y="2357.6" font-size="84.5" font-weight="normal" textLength="86.9" lengthAdjust="spacingAndGlyphs">10</text>
<text x="311.8" y="2726.7" font-size="84.5" font-weight="normal" textLength="43.9" lengthAdjust="spacingAndGlyphs">1</text>
<text x="266.8" y="3279.5" font-size="84.5" font-weight="normal" textLength="86.3" lengthAdjust="spacingAndGlyphs">80</text>
<text x="266.4" y="3553.7" font-size="84.5" font-weight="normal" textLength="86.4" lengthAdjust="spacingAndGlyphs">60</text>
<text x="268.2" y="3831.2" font-size="84.5" font-weight="normal" textLength="84.6" lengthAdjust="spacingAndGlyphs">40</text>
<text x="266.4" y="4109.2" font-size="84.5" font-weight="normal" textLength="86.4" lengthAdjust="spacingAndGlyphs">20</text>
<text x="306.9" y="4387.4" font-size="84.5" font-weight="normal" textLength="46.2" lengthAdjust="spacingAndGlyphs">0</text>
<text x="46.2" y="107.0" font-size="84.5" font-weight="bold" textLength="61.0" lengthAdjust="spacingAndGlyphs">A</text>
<text x="77.6" y="1563.7" font-size="84.5" font-weight="bold" textLength="51.6" lengthAdjust="spacingAndGlyphs">B</text>
<text x="54.4" y="3220.5" font-size="84.5" font-weight="bold" textLength="64.4" lengthAdjust="spacingAndGlyphs">C</text>
<rect x="860.6" y="157.5" width="90.6" height="74.4" rx="3" fill="#a0a0a4" stroke="#000" stroke-width="8.8"/>
<rect x="860.6" y="254.3" width="90.6" height="75.5" rx="3" fill="#333333" stroke="#000" stroke-width="8.8"/>
<text x="1000.2" y="223.6" font-size="84.5" font-weight="normal" textLength="156.5" lengthAdjust="spacingAndGlyphs">Low</text>
<text x="1173.5" y="223.6" font-size="84.5" font-weight="normal" textLength="274.9" lengthAdjust="spacingAndGlyphs">fructose</text>
<text x="1464.2" y="223.6" font-size="84.5" font-weight="normal" textLength="133.8" lengthAdjust="spacingAndGlyphs">diet</text>
<text x="999.4" y="321.5" font-size="84.5" font-weight="normal" textLength="179.8" lengthAdjust="spacingAndGlyphs">High</text>
<text x="1195.3" y="321.5" font-size="84.5" font-weight="normal" textLength="274.0" lengthAdjust="spacingAndGlyphs">fructose</text>
<text x="1486.5" y="321.5" font-size="84.5" font-weight="normal" textLength="133.8" lengthAdjust="spacingAndGlyphs">diet</text>
<text transform="translate(103.1,1093.0) rotate(-90)" x="0" y="0" font-size="84.5" textLength="463.5" lengthAdjust="spacingAndGlyphs">Acylcarnitine</text>
<text transform="translate(103.1,614.7) rotate(-90)" x="0" y="0" font-size="84.5" textLength="166.6" lengthAdjust="spacingAndGlyphs">level</text>
<text transform="translate(103.1,429.0) rotate(-90)" x="0" y="0" font-size="84.5" textLength="174.6" lengthAdjust="spacingAndGlyphs">(μM)</text>
<text transform="translate(132.0,2641.1) rotate(-90)" x="0" y="0" font-size="84.5" textLength="644.8" lengthAdjust="spacingAndGlyphs">Phosphatidcholine</text>
<text transform="translate(132.0,1983.2) rotate(-90)" x="0" y="0" font-size="84.5" textLength="167.0" lengthAdjust="spacingAndGlyphs">level</text>
<text transform="translate(132.0,1796.6) rotate(-90)" x="0" y="0" font-size="84.5" textLength="173.8" lengthAdjust="spacingAndGlyphs">(μM)</text>
<text transform="translate(114.3,4303.6) rotate(-90)" x="0" y="0" font-size="84.5" textLength="647.3" lengthAdjust="spacingAndGlyphs">Phosphatidcholine</text>
<text transform="translate(114.3,3643.2) rotate(-90)" x="0" y="0" font-size="84.5" textLength="167.0" lengthAdjust="spacingAndGlyphs">level</text>
<text transform="translate(114.3,3456.6) rotate(-90)" x="0" y="0" font-size="84.5" textLength="173.8" lengthAdjust="spacingAndGlyphs">(μM)</text>
<text transform="translate(475.6,1340.0) rotate(-45)" x="-98.6" y="0" font-size="84.5" textLength="98.6" lengthAdjust="spacingAndGlyphs">C2</text>
<text transform="translate(614.1,1340.0) rotate(-45)" x="-244.1" y="0" font-size="84.5" textLength="244.1" lengthAdjust="spacingAndGlyphs">C7-DC</text>
<text transform="translate(752.6,1340.0) rotate(-45)" x="-140.9" y="0" font-size="84.5" textLength="140.9" lengthAdjust="spacingAndGlyphs">C10</text>
<text transform="translate(891.1,1340.0) rotate(-45)" x="-140.9" y="0" font-size="84.5" textLength="140.9" lengthAdjust="spacingAndGlyphs">C12</text>
<text transform="translate(1029.6,1340.0) rotate(-45)" x="-206.6" y="0" font-size="84.5" textLength="206.6" lengthAdjust="spacingAndGlyphs">C14:1</text>
<text transform="translate(1168.1,1340.0) rotate(-45)" x="-356.8" y="0" font-size="84.5" textLength="356.8" lengthAdjust="spacingAndGlyphs">C14:1-OH</text>
<text transform="translate(1306.6,1340.0) rotate(-45)" x="-206.6" y="0" font-size="84.5" textLength="206.6" lengthAdjust="spacingAndGlyphs">C14:2</text>
<text transform="translate(1445.1,1340.0) rotate(-45)" x="-206.6" y="0" font-size="84.5" textLength="206.6" lengthAdjust="spacingAndGlyphs">C16:0</text>
<text transform="translate(1583.6,1340.0) rotate(-45)" x="-206.6" y="0" font-size="84.5" textLength="206.6" lengthAdjust="spacingAndGlyphs">C16:1</text>
<text transform="translate(1722.1,1340.0) rotate(-45)" x="-206.6" y="0" font-size="84.5" textLength="206.6" lengthAdjust="spacingAndGlyphs">C16:2</text>
<text transform="translate(1860.6,1340.0) rotate(-45)" x="-206.6" y="0" font-size="84.5" textLength="206.6" lengthAdjust="spacingAndGlyphs">C18:1</text>
<text transform="translate(1999.1,1340.0) rotate(-45)" x="-206.6" y="0" font-size="84.5" textLength="206.6" lengthAdjust="spacingAndGlyphs">C18:2</text>
<text transform="translate(488.4,2796.5) rotate(-45)" x="-427.2" y="0" font-size="84.5" textLength="427.2" lengthAdjust="spacingAndGlyphs">PC aa C30:0</text>
<text transform="translate(639.5,2796.5) rotate(-45)" x="-427.2" y="0" font-size="84.5" textLength="427.2" lengthAdjust="spacingAndGlyphs">PC aa C32:1</text>
<text transform="translate(790.6,2796.5) rotate(-45)" x="-427.2" y="0" font-size="84.5" textLength="427.2" lengthAdjust="spacingAndGlyphs">PC aa C34:1</text>
<text transform="translate(941.8,2796.5) rotate(-45)" x="-427.2" y="0" font-size="84.5" textLength="427.2" lengthAdjust="spacingAndGlyphs">PC aa C34:3</text>
<text transform="translate(1092.8,2796.5) rotate(-45)" x="-427.2" y="0" font-size="84.5" textLength="427.2" lengthAdjust="spacingAndGlyphs">PC aa C36:3</text>
<text transform="translate(1244.0,2796.5) rotate(-45)" x="-427.2" y="0" font-size="84.5" textLength="427.2" lengthAdjust="spacingAndGlyphs">PC aa C38:3</text>
<text transform="translate(1395.0,2796.5) rotate(-45)" x="-427.2" y="0" font-size="84.5" textLength="427.2" lengthAdjust="spacingAndGlyphs">PC aa C40:4</text>
<text transform="translate(1546.2,2796.5) rotate(-45)" x="-427.2" y="0" font-size="84.5" textLength="427.2" lengthAdjust="spacingAndGlyphs">PC aa C40:5</text>
<text transform="translate(1697.2,2796.5) rotate(-45)" x="-427.2" y="0" font-size="84.5" textLength="427.2" lengthAdjust="spacingAndGlyphs">PC aa C40:6</text>
<text transform="translate(1848.3,2796.5) rotate(-45)" x="-530.6" y="0" font-size="84.5" textLength="530.6" lengthAdjust="spacingAndGlyphs">lysoPC a C14:0</text>
<text transform="translate(1999.5,2796.5) rotate(-45)" x="-530.6" y="0" font-size="84.5" textLength="530.6" lengthAdjust="spacingAndGlyphs">lysoPC a C16:1</text>
<text transform="translate(548.8,4460.0) rotate(-45)" x="-427.2" y="0" font-size="84.5" textLength="427.2" lengthAdjust="spacingAndGlyphs">PC aa C32:1</text>
<text transform="translate(825.4,4460.0) rotate(-45)" x="-427.2" y="0" font-size="84.5" textLength="427.2" lengthAdjust="spacingAndGlyphs">PC aa C34:3</text>
<text transform="translate(1102.0,4460.0) rotate(-45)" x="-427.2" y="0" font-size="84.5" textLength="427.2" lengthAdjust="spacingAndGlyphs">PC aa C38:3</text>
<text transform="translate(1378.6,4460.0) rotate(-45)" x="-427.2" y="0" font-size="84.5" textLength="427.2" lengthAdjust="spacingAndGlyphs">PC aa C40:4</text>
<text transform="translate(1655.2,4460.0) rotate(-45)" x="-427.2" y="0" font-size="84.5" textLength="427.2" lengthAdjust="spacingAndGlyphs">PC aa C40:5</text>
<text transform="translate(1931.8,4460.0) rotate(-45)" x="-427.2" y="0" font-size="84.5" textLength="427.2" lengthAdjust="spacingAndGlyphs">PC aa C40:6</text>
</g>
</svg>
</body></html>
